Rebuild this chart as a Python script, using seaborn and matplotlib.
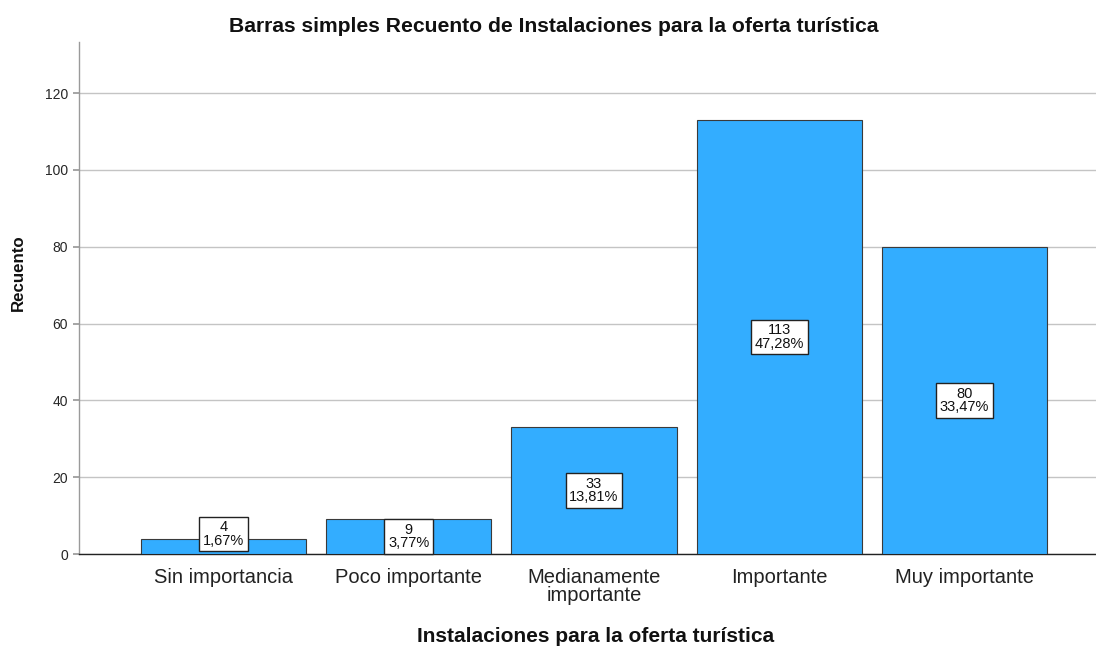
import matplotlib
matplotlib.use("Agg")
import matplotlib.pyplot as plt
import seaborn as sns
import pandas as pd

categories = ["Sin importancia", "Poco importante", "Medianamente\nimportante", "Importante", "Muy importante"]
counts = [4, 9, 33, 113, 80]
percents = ["1,67%", "3,77%", "13,81%", "47,28%", "33,47%"]

sns.set_theme(style="white")
plt.rcParams['font.family'] = ['Liberation Sans', 'DejaVu Sans']

df = pd.DataFrame({"cat": categories, "n": counts})

fig = plt.figure(figsize=(10.96, 6.51), dpi=100)
ax = fig.add_axes([0.0721, 0.149, 0.9279, 0.7865])

sns.barplot(data=df, x="cat", y="n", color="#33adff", saturation=1, width=0.892,
            edgecolor="#3a3a3a", linewidth=0.8, ax=ax, zorder=3)

ax.set_xlim(-0.78, 4.71)
ax.set_ylim(0, 133.3)
ax.set_yticks([0, 20, 40, 60, 80, 100, 120])
ax.yaxis.grid(True, color="#c4c4c4", linewidth=1.0, zorder=0)
ax.set_axisbelow(True)
for s in ["top", "right"]:
    ax.spines[s].set_visible(False)
ax.spines["left"].set_color("#9a9a9a")
ax.spines["left"].set_linewidth(1.0)
ax.spines["bottom"].set_color("#222222")
ax.spines["bottom"].set_linewidth(1.0)
ax.tick_params(axis="y", labelsize=10, length=4, color="#9a9a9a", pad=4, left=True)
ax.tick_params(axis="x", labelsize=14.5, length=0, pad=10)
for t in ax.get_xticklabels():
    t.set_color("#222222")
    t.set_linespacing(0.95)

for i, (n, p) in enumerate(zip(counts, percents)):
    y = n / 2 if n / 2 > 4 else 5.2
    ax.text(i, y, f"{n}\n{p}", ha="center", va="center", fontsize=10.5, linespacing=0.95,
            color="#111111", zorder=5,
            bbox=dict(boxstyle="square,pad=0.25", facecolor="white", edgecolor="#222222", linewidth=1.0))

fig.suptitle("Barras simples Recuento de Instalaciones para la oferta turística",
             x=0.505, y=1 - 27 / 651, va="center",
             fontsize=15.2, fontweight="bold", color="#111111")
ax.set_xlabel("Instalaciones para la oferta turística", fontsize=15, fontweight="bold",
              color="#111111")
ax.xaxis.set_label_coords(0.508, -0.162)
ax.xaxis.label.set_va("center")
ax.set_ylabel("Recuento", fontsize=12.2, fontweight="bold", color="#111111")
ax.yaxis.set_label_coords(-0.06, 0.549)
ax.yaxis.label.set_va("center")

fig.savefig("out.png", dpi=100)
